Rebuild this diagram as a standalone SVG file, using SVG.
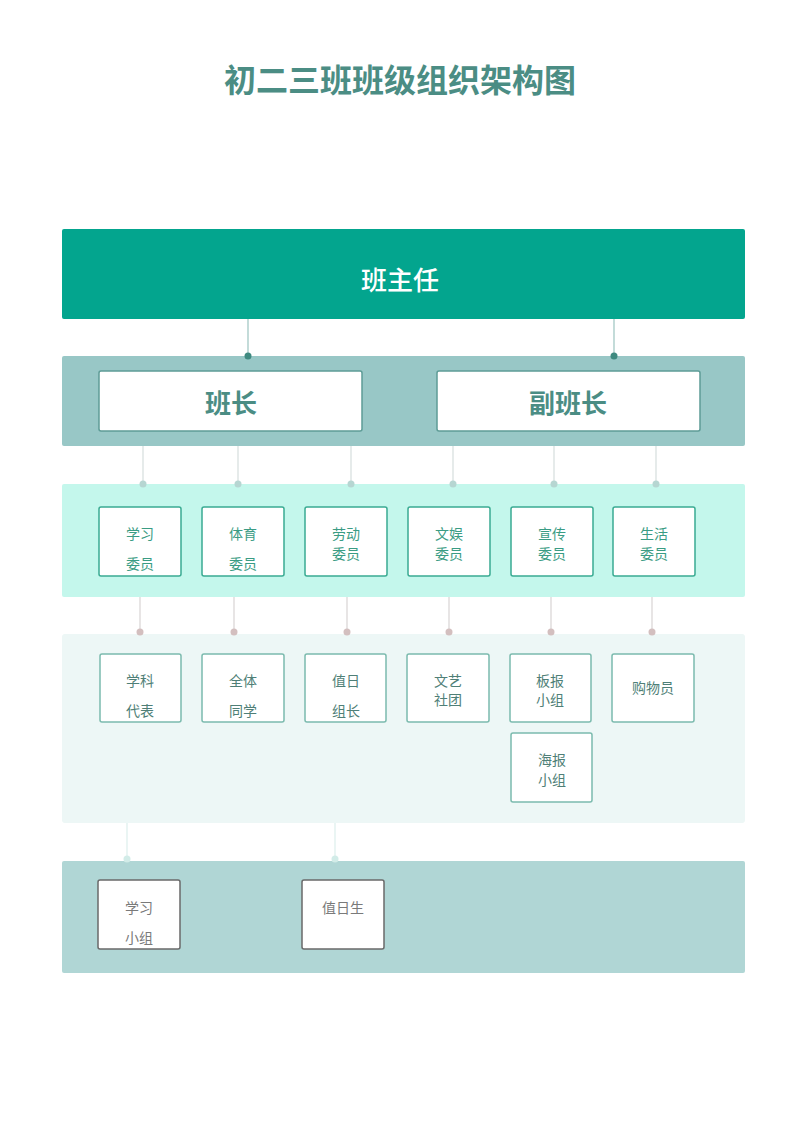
<svg xmlns="http://www.w3.org/2000/svg" width="800" height="1131" viewBox="0 0 800 1131">
<style>
text{font-family:"Noto Sans CJK SC","Noto Sans",sans-serif;text-anchor:middle;dominant-baseline:central}
.t{font-size:32px;font-weight:bold;fill:#4b8d84}
.b1{fill:#03a58e}
.b2{fill:#98c7c6}
.b3{fill:#c4f7ec}
.b4{fill:#edf7f6}
.b5{fill:#b0d6d5}
.n2{fill:#fff;stroke:#5d9c96;stroke-width:1.5}
.n3{fill:#fff;stroke:#3aab92;stroke-width:1.5}
.n4{fill:#fff;stroke:#7bbbae;stroke-width:1.5}
.n5{fill:#fff;stroke:#6a6a6a;stroke-width:1.5}
.l2{font-size:26px;font-weight:bold;fill:#4b8d84}
.l3{font-size:14px;fill:#3a9c84}
.l4{font-size:14px;fill:#4f7f77}
.l5{font-size:14px;fill:#7a7a7a}
.c1{stroke:#9cc4c0;stroke-width:1.2}
.c2{stroke:#d6dedd;stroke-width:1.2}
.c3{stroke:#d8d4d4;stroke-width:1.2}
.c4{stroke:#dceeec;stroke-width:1.2}
</style>
<text class="t" x="400" y="78">初二三班班级组织架构图</text>
<g id="bands">
<rect class="b1" x="62" y="229" width="683" height="90" rx="2"/>
<rect class="b2" x="62" y="356" width="683" height="90" rx="2"/>
<rect class="b3" x="62" y="484" width="683" height="113" rx="2"/>
<rect class="b4" x="62" y="634" width="683" height="189" rx="3"/>
<rect class="b5" x="62" y="861" width="683" height="112" rx="2"/>
</g>
<g id="connectors">
<line class="c1" x1="248" y1="319" x2="248" y2="356"/><circle cx="248" cy="356" r="3.5" fill="#3f8a80"/>
<line class="c1" x1="614" y1="319" x2="614" y2="356"/><circle cx="614" cy="356" r="3.5" fill="#3f8a80"/>
<g fill="#b6d6d2">
<line class="c2" x1="143" y1="446" x2="143" y2="484"/><circle cx="143" cy="484" r="3.5"/>
<line class="c2" x1="238" y1="446" x2="238" y2="484"/><circle cx="238" cy="484" r="3.5"/>
<line class="c2" x1="351" y1="446" x2="351" y2="484"/><circle cx="351" cy="484" r="3.5"/>
<line class="c2" x1="453" y1="446" x2="453" y2="484"/><circle cx="453" cy="484" r="3.5"/>
<line class="c2" x1="554" y1="446" x2="554" y2="484"/><circle cx="554" cy="484" r="3.5"/>
<line class="c2" x1="656" y1="446" x2="656" y2="484"/><circle cx="656" cy="484" r="3.5"/>
</g>
<g fill="#d3bfbf">
<line class="c3" x1="140" y1="597" x2="140" y2="632"/><circle cx="140" cy="632" r="3.5"/>
<line class="c3" x1="234" y1="597" x2="234" y2="632"/><circle cx="234" cy="632" r="3.5"/>
<line class="c3" x1="347" y1="597" x2="347" y2="632"/><circle cx="347" cy="632" r="3.5"/>
<line class="c3" x1="449" y1="597" x2="449" y2="632"/><circle cx="449" cy="632" r="3.5"/>
<line class="c3" x1="551" y1="597" x2="551" y2="632"/><circle cx="551" cy="632" r="3.5"/>
<line class="c3" x1="652" y1="597" x2="652" y2="632"/><circle cx="652" cy="632" r="3.5"/>
</g>
<g fill="#d2ece8">
<line class="c4" x1="127" y1="823" x2="127" y2="859"/><circle cx="127" cy="859" r="3.5"/>
<line class="c4" x1="335" y1="823" x2="335" y2="859"/><circle cx="335" cy="859" r="3.5"/>
</g>
</g>
<g id="n-banzhuren"><text x="400" y="278" font-size="26" font-weight="500" fill="#fff">班主任</text></g>
<g id="n-banzhang"><rect class="n2" x="99" y="371" width="263" height="60" rx="2"/><text class="l2" x="231" y="401">班长</text></g>
<g id="n-fubanzhang"><rect class="n2" x="437" y="371" width="263" height="60" rx="2"/><text class="l2" x="568" y="401">副班长</text></g>
<g id="n-xuexi"><rect class="n3" x="99" y="507" width="82" height="69" rx="2"/><text class="l3" x="140" y="533">学习</text><text class="l3" x="140" y="563">委员</text></g>
<g id="n-tiyu"><rect class="n3" x="202" y="507" width="82" height="69" rx="2"/><text class="l3" x="243" y="533">体育</text><text class="l3" x="243" y="563">委员</text></g>
<g id="n-laodong"><rect class="n3" x="305" y="507" width="82" height="69" rx="2"/><text class="l3" x="346" y="533">劳动</text><text class="l3" x="346" y="553">委员</text></g>
<g id="n-wenyu"><rect class="n3" x="408" y="507" width="82" height="69" rx="2"/><text class="l3" x="449" y="533">文娱</text><text class="l3" x="449" y="553">委员</text></g>
<g id="n-xuanchuan"><rect class="n3" x="511" y="507" width="82" height="69" rx="2"/><text class="l3" x="552" y="533">宣传</text><text class="l3" x="552" y="553">委员</text></g>
<g id="n-shenghuo"><rect class="n3" x="613" y="507" width="82" height="69" rx="2"/><text class="l3" x="654" y="533">生活</text><text class="l3" x="654" y="553">委员</text></g>
<g id="n-xueke"><rect class="n4" x="100" y="654" width="81" height="68" rx="2"/><text class="l4" x="140" y="680">学科</text><text class="l4" x="140" y="710">代表</text></g>
<g id="n-quanti"><rect class="n4" x="202" y="654" width="82" height="68" rx="2"/><text class="l4" x="243" y="680">全体</text><text class="l4" x="243" y="710">同学</text></g>
<g id="n-zhiri"><rect class="n4" x="305" y="654" width="81" height="68" rx="2"/><text class="l4" x="346" y="680">值日</text><text class="l4" x="346" y="710">组长</text></g>
<g id="n-wenyi"><rect class="n4" x="407" y="654" width="82" height="68" rx="2"/><text class="l4" x="448" y="680">文艺</text><text class="l4" x="448" y="699">社团</text></g>
<g id="n-banbao"><rect class="n4" x="510" y="654" width="81" height="68" rx="2"/><text class="l4" x="550" y="680">板报</text><text class="l4" x="550" y="699">小组</text></g>
<g id="n-gouwu"><rect class="n4" x="612" y="654" width="82" height="68" rx="2"/><text class="l4" x="653" y="687">购物员</text></g>
<g id="n-haibao"><rect class="n4" x="511" y="733" width="81" height="69" rx="2"/><text class="l4" x="552" y="759">海报</text><text class="l4" x="552" y="779">小组</text></g>
<g id="n-xuexixiaozu"><rect class="n5" x="98" y="880" width="82" height="69" rx="2"/><text class="l5" x="139" y="907">学习</text><text class="l5" x="139" y="937">小组</text></g>
<g id="n-zhirisheng"><rect class="n5" x="302" y="880" width="82" height="69" rx="2"/><text class="l5" x="343" y="907">值日生</text></g>
</svg>
